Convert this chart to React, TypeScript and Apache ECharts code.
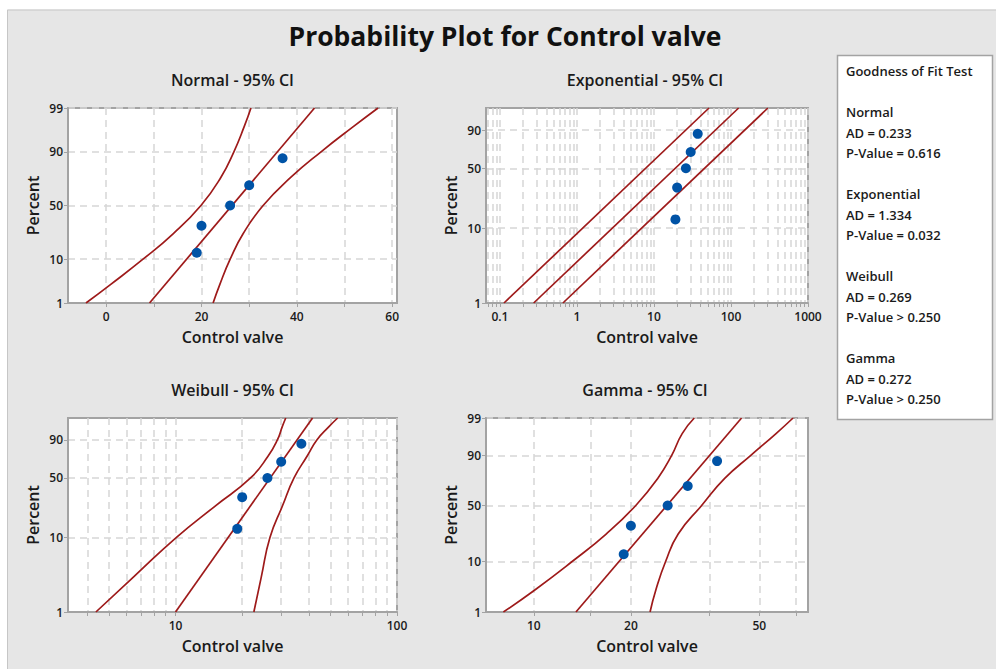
import React, { useEffect, useRef } from "react";
import * as echarts from "echarts";

// ---------------- data ----------------
const controlValve = [19, 20, 26, 30, 37];
const plotPercent = [12.96, 31.48, 50, 68.52, 87.04];

const fitPercent = [1, 99];
const ciPercent = [1, 3, 10, 25, 50, 75, 90, 97, 99];

const normalFit = [9.1, 43.7];
const normalLower = [-4.23, 0.97, 7.73, 14.04, 19.88, 24.08, 26.79, 28.95, 30.37];
const normalUpper = [22.43, 23.85, 26.01, 28.72, 32.92, 38.76, 45.07, 51.83, 57.03];

const expoFit = [0.2744, 125.7];
const expoLower = [0.113, 51.8];
const expoUpper = [0.658, 301.6];

const weibullFit = [10.0, 41.56];
const weibullLower = [4.37, 6.47, 10.07, 15.15, 21.82, 26.2, 28.83, 30.34, 31.45];
const weibullUpper = [22.58, 24.4, 26.69, 30.41, 34.28, 39.31, 43.46, 49.3, 53.95];

const gammaFit = [13.51, 44.06];
const gammaLower = [8.05, 10.1, 13.18, 16.76, 20.71, 24.22, 26.76, 28.84, 31.44];
const gammaUpper = [22.93, 23.91, 25.64, 28.03, 33.14, 39.06, 47.07, 56.36, 63.63];

const percentTicksFull = [1, 10, 50, 90, 99];
const percentTicksSev = [1, 10, 50, 90];

const normalXLabels = [0, 20, 40, 60];
const normalXGrid = [0, 10, 20, 30, 40, 50, 60];
const expoXLabels = [0.1, 1, 10, 100, 1000];
const expoXGrid = [
  0.07, 0.08, 0.09, 0.1, 0.2, 0.3, 0.4, 0.5, 0.6, 0.7, 0.8, 0.9,
  1, 2, 3, 4, 5, 6, 7, 8, 9, 10, 20, 30, 40, 50, 60, 70, 80, 90,
  100, 200, 300, 400, 500, 600, 700, 800, 900, 1000,
];
const weibullXLabels = [10, 100];
const weibullXGrid = [4, 5, 6, 7, 8, 9, 10, 20, 30, 40, 50, 60, 70, 80, 90, 100];
const gammaXLabels = [10, 20, 50];
const gammaXGrid = [10, 15, 20, 35, 50, 65];

const mainTitle = "Probability Plot for Control valve";
const panelTitles = ["Normal - 95% CI", "Exponential - 95% CI", "Weibull - 95% CI", "Gamma - 95% CI"];
const xName = "Control valve";
const yName = "Percent";

const gofLines = [
  "Goodness of Fit Test", "",
  "Normal", "AD = 0.233", "P-Value = 0.616", "",
  "Exponential", "AD = 1.334", "P-Value = 0.032", "",
  "Weibull", "AD = 0.269", "P-Value > 0.250", "",
  "Gamma", "AD = 0.272", "P-Value > 0.250",
];

// ---------------- probability-axis scales ----------------
function normInv(p: number): number {
  const a = [-3.969683028665376e1, 2.209460984245205e2, -2.759285104469687e2, 1.38357751867269e2, -3.066479806614716e1, 2.506628277459239];
  const b = [-5.447609879822406e1, 1.615858368580409e2, -1.556989798598866e2, 6.680131188771972e1, -1.328068155288572e1];
  const c = [-7.784894002430293e-3, -3.223964580411365e-1, -2.400758277161838, -2.549671464403464, 4.374664141464968, 2.938163982698783];
  const d = [7.784695709041462e-3, 3.224671290700398e-1, 2.445134137142996, 3.754408661907416];
  const pl = 0.02425;
  if (p < pl) {
    const q = Math.sqrt(-2 * Math.log(p));
    return (((((c[0] * q + c[1]) * q + c[2]) * q + c[3]) * q + c[4]) * q + c[5]) / ((((d[0] * q + d[1]) * q + d[2]) * q + d[3]) * q + 1);
  }
  if (p <= 1 - pl) {
    const q = p - 0.5;
    const r = q * q;
    return ((((((a[0] * r + a[1]) * r + a[2]) * r + a[3]) * r + a[4]) * r + a[5]) * q) / (((((b[0] * r + b[1]) * r + b[2]) * r + b[3]) * r + b[4]) * r + 1);
  }
  const q = Math.sqrt(-2 * Math.log(1 - p));
  return -(((((c[0] * q + c[1]) * q + c[2]) * q + c[3]) * q + c[4]) * q + c[5]) / ((((d[0] * q + d[1]) * q + d[2]) * q + d[3]) * q + 1);
}
const normalY = (pct: number) => normInv(pct / 100);
const sevY = (pct: number) => Math.log(-Math.log(1 - pct / 100));
const gammaShape = 16;
const gammaY = (pct: number) => {
  const z = normInv(pct / 100);
  const k = gammaShape;
  return Math.log(k) + 3 * Math.log(1 - 1 / (9 * k) + z / (3 * Math.sqrt(k)));
};

// ---------------- styles ----------------
const FONT = "Open Sans";
const RED = "#9e1a1a";
const BLUE = "#0053a6";
const GRIDC = "#d6d6d6";
const BORDER = "#a3a3a3";
const TXT = "#1a1a1a";

const COLS = [{ left: 68, width: 329 }, { left: 486, width: 322 }];
const ROWS = [{ top: 108, height: 195 }, { top: 418, height: 194 }];

type PanelDef = {
  xAxis: any;
  yf: (p: number) => number;
  yTicks: number[];
  fit: number[];
  lower: number[];
  upper: number[];
  ciPct: number[];
};

const matchLabel = (list: number[], v: number) => {
  const t = list.find((l) => Math.abs(l - v) <= Math.abs(l) * 1e-6 + 1e-9);
  return t === undefined ? "" : String(t);
};

const axisLabelStyle = { color: TXT, fontSize: 12, fontWeight: 600 as any, fontFamily: FONT };
const splitStyle = { show: true, lineStyle: { color: GRIDC, width: 1.5, type: [7, 5] as any } };

function logX(min: number, max: number, labels: number[], grid: number[]) {
  return {
    type: "log",
    logBase: 10,
    min,
    max,
    axisLabel: { ...axisLabelStyle, margin: 7, customValues: labels, formatter: (v: number) => matchLabel(labels, v) },
    axisTick: { show: true, length: 4, lineStyle: { color: BORDER }, customValues: grid },
  };
}

const panels: PanelDef[] = [
  {
    xAxis: {
      type: "value",
      min: -8,
      max: 61,
      axisLabel: { ...axisLabelStyle, margin: 7, customValues: normalXLabels, formatter: (v: number) => matchLabel(normalXLabels, v) },
      axisTick: { show: true, length: 4, lineStyle: { color: BORDER }, customValues: normalXGrid },
    },
    yf: normalY,
    yTicks: percentTicksFull,
    fit: normalFit,
    lower: normalLower,
    upper: normalUpper,
    ciPct: ciPercent,
  },
  {
    xAxis: logX(0.066, 1000, expoXLabels, expoXGrid),
    yf: sevY,
    yTicks: percentTicksSev,
    fit: expoFit,
    lower: expoLower,
    upper: expoUpper,
    ciPct: fitPercent,
  },
  {
    xAxis: logX(3.27, 100, weibullXLabels, weibullXGrid),
    yf: sevY,
    yTicks: percentTicksSev,
    fit: weibullFit,
    lower: weibullLower,
    upper: weibullUpper,
    ciPct: ciPercent,
  },
  {
    xAxis: logX(7.11, 70.8, gammaXLabels, gammaXGrid),
    yf: gammaY,
    yTicks: percentTicksFull,
    fit: gammaFit,
    lower: gammaLower,
    upper: gammaUpper,
    ciPct: ciPercent,
  },
];

function buildOption() {
  const grids: any[] = [];
  const xAxes: any[] = [];
  const yAxes: any[] = [];
  const series: any[] = [];
  const graphics: any[] = [];

  panels.forEach((pd, i) => {
    const col = COLS[i % 2];
    const row = ROWS[Math.floor(i / 2)];
    grids.push({
      left: col.left,
      top: row.top,
      width: col.width,
      height: row.height,
      show: true,
      backgroundColor: "#ffffff",
      borderColor: BORDER,
      borderWidth: 2,
      containLabel: false,
    });
    xAxes.push({
      ...pd.xAxis,
      gridIndex: i,
      name: xName,
      nameLocation: "middle",
      nameGap: 26,
      nameTextStyle: { color: TXT, fontSize: 16, fontWeight: 600, fontFamily: FONT },
      axisLine: { show: true, onZero: false, lineStyle: { color: BORDER, width: 2 } },
      splitLine: splitStyle,
      minorSplitLine: { show: false },
    });
    const yMin = pd.yf(1);
    const yMax = pd.yf(99);
    const yVals = pd.yTicks.map(pd.yf);
    yAxes.push({
      type: "value",
      gridIndex: i,
      min: yMin,
      max: yMax,
      name: yName,
      nameLocation: "middle",
      nameGap: 27,
      nameTextStyle: { color: TXT, fontSize: 16, fontWeight: 600, fontFamily: FONT },
      axisLine: { show: true, onZero: false, lineStyle: { color: BORDER, width: 2 } },
      axisTick: { show: true, length: 4, lineStyle: { color: BORDER }, customValues: yVals },
      axisLabel: {
        ...axisLabelStyle,
        margin: 5,
        customValues: yVals,
        formatter: (v: number) => {
          const t = pd.yTicks.find((p) => Math.abs(pd.yf(p) - v) < 1e-6);
          return t === undefined ? "" : String(t);
        },
      },
      splitLine: splitStyle,
    });
    const lineCommon = {
      type: "line",
      xAxisIndex: i,
      yAxisIndex: i,
      showSymbol: false,
      symbol: "none",
      lineStyle: { color: RED, width: 1.7 },
      z: 3,
      silent: true,
    };
    series.push({
      ...lineCommon,
      name: "lower" + i,
      smooth: true,
      data: pd.ciPct.map((p, j) => [pd.lower[j], pd.yf(p)]),
    });
    series.push({
      ...lineCommon,
      name: "upper" + i,
      smooth: true,
      data: pd.ciPct.map((p, j) => [pd.upper[j], pd.yf(p)]),
    });
    series.push({
      ...lineCommon,
      name: "fit" + i,
      data: fitPercent.map((p, j) => [pd.fit[j], pd.yf(p)]),
    });
    series.push({
      type: "scatter",
      name: "points" + i,
      xAxisIndex: i,
      yAxisIndex: i,
      symbol: "circle",
      symbolSize: 10,
      itemStyle: { color: BLUE, opacity: 1 },
      z: 5,
      data: controlValve.map((x, j) => [x, pd.yf(plotPercent[j])]),
    });

    graphics.push({
      type: "text",
      x: col.left + col.width / 2 - (i % 2 === 0 ? 0 : 2),
      y: i < 2 ? 80 : 390,
      style: {
        text: panelTitles[i],
        fill: TXT,
        fontSize: 16,
        fontWeight: 600,
        fontFamily: FONT,
        textAlign: "center",
        textVerticalAlign: "middle",
      },
    });
  });

  // white page margin + frame
  graphics.unshift(
    { type: "rect", shape: { x: 0, y: 0, width: 7, height: 669 }, style: { fill: "#ffffff" }, z: 0 },
    { type: "rect", shape: { x: 0, y: 0, width: 996, height: 9.5 }, style: { fill: "#ffffff" }, z: 0 },
    { type: "line", shape: { x1: 7.5, y1: 10, x2: 7.5, y2: 669 }, style: { stroke: "#c6c6c6", lineWidth: 1 }, z: 0 },
    { type: "line", shape: { x1: 7.5, y1: 10, x2: 996, y2: 10 }, style: { stroke: "#c6c6c6", lineWidth: 1 }, z: 0 }
  );

  graphics.push({
    type: "text",
    x: 505,
    y: 36,
    style: {
      text: mainTitle,
      fill: "#111111",
      fontSize: 26.5,
      fontWeight: 700,
      fontFamily: FONT,
      textAlign: "center",
      textVerticalAlign: "middle",
    },
  });

  // goodness of fit box
  graphics.push({
    type: "rect",
    shape: { x: 837.5, y: 55.5, width: 155, height: 364 },
    style: { fill: "#ffffff", stroke: BORDER, lineWidth: 1.5 },
    z: 10,
  });
  gofLines.forEach((t, k) => {
    if (!t) return;
    graphics.push({
      type: "text",
      x: 846,
      y: 71 + k * 20.5,
      z: 11,
      style: {
        text: t,
        fill: TXT,
        fontSize: 13,
        fontWeight: 600,
        fontFamily: FONT,
        textAlign: "left",
        textVerticalAlign: "middle",
      },
    });
  });

  return {
    animation: false,
    backgroundColor: "#e6e6e6",
    textStyle: { fontFamily: FONT },
    grid: grids,
    xAxis: xAxes,
    yAxis: yAxes,
    series,
    graphic: graphics,
  };
}

export default function App() {
  const ref = useRef<HTMLDivElement>(null);
  useEffect(() => {
    if (!ref.current) return;
    const chart = echarts.init(ref.current, undefined, { renderer: "svg" });
    chart.setOption(buildOption() as any);
    return () => chart.dispose();
  }, []);
  return (
    <div
      ref={ref}
      style={{ position: "fixed", left: 0, top: 0, width: 996, height: 669 }}
    />
  );
}
